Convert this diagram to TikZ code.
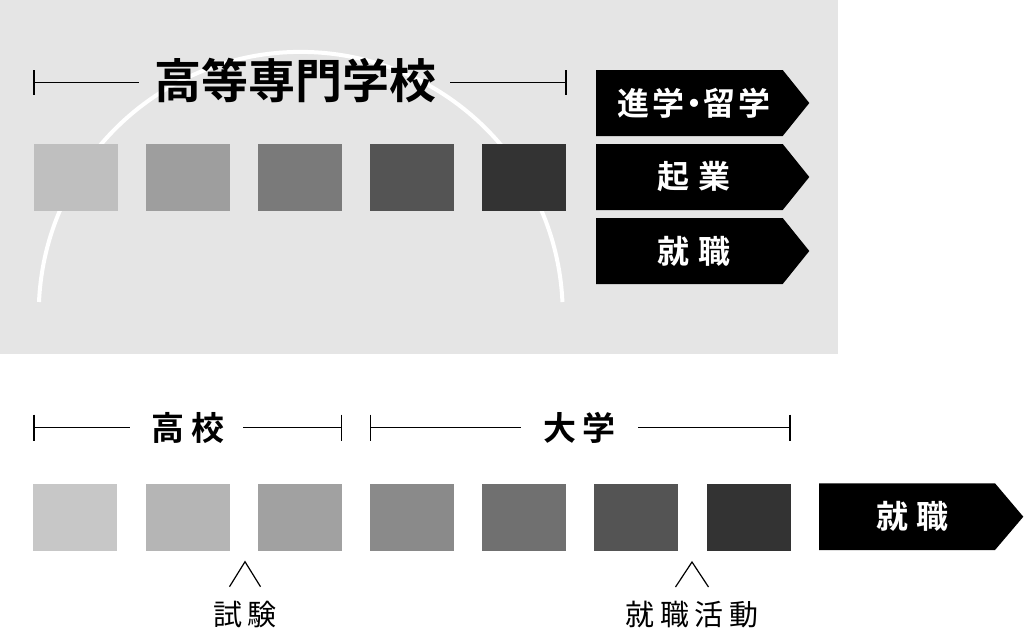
\documentclass[tikz,border=0pt]{standalone}
\usepackage{fontspec}
\setmainfont{Noto Sans CJK JP}[BoldFont={Noto Sans CJK JP Bold}]
\usepackage{tikz}

\begin{document}
\begin{tikzpicture}[x=1pt, y=-1pt, line width=1.2pt, every node/.style={inner sep=0pt},
  cell/.style={minimum width=84pt, minimum height=67pt},
  bigtitle/.style={font=\bfseries\fontsize{47}{47}\selectfont},
  subtitle/.style={font=\bfseries\fontsize{33}{33}\selectfont\addfontfeature{LetterSpace=20}},
  pathtext/.style={text=white, font=\bfseries\fontsize{32}{32}\selectfont\addfontfeature{LetterSpace=#1}},
  eventtext/.style={font=\fontsize{29}{29}\selectfont\addfontfeature{LetterSpace=20}}]
  \useasboundingbox (0,0) rectangle (1024,630);
  % kosen panel
  \fill[black!10] (0,0) rectangle (838,354);
  \draw[white, line width=4pt] (39,302) arc[start angle=182.6, end angle=357.4, radius=262];
  \node[bigtitle] (kosen) at (295.5,80.5) {高等専門学校};
  \coordinate (kl) at (34,82.5);
  \coordinate (kr) at (566,82.5);
  \draw ([yshift=12.5pt]kl) -- ([yshift=-12.5pt]kl) (kl) -- ([xshift=-15pt]kl -| kosen.west);
  \draw ([yshift=12.5pt]kr) -- ([yshift=-12.5pt]kr) (kr) -- ([xshift=13pt]kr -| kosen.east);
  \foreach \p [count=\i from 0] in {25,38,52,67,80}
    \node[cell, fill=black!\p] (k\i) at (75.5+112.1*\i,177.5) {};
  \foreach \y/\t/\s [count=\i] in {103/{進学\kern-7pt・\kern-7pt留学}/10, 177/起業/30, 251/就職/30} {
    \fill (596,\y-33) -- (782.7,\y-33) -- (809.3,\y) -- (782.7,\y+33) -- (596,\y+33) -- cycle;
    \node[pathtext=\s] (out\i) at (694,\y) {\t};
  }
  % high school and university
  \node[subtitle] (hs) at (188,428) {高校};
  \node[subtitle] (univ) at (579.5,428) {大学};
  \coordinate (hl) at (34,427.7);
  \coordinate (hr) at (341.7,427.7);
  \coordinate (ul) at (370.7,427.7);
  \coordinate (ur) at (790,427.7);
  \foreach \c in {hl,hr,ul,ur}
    \draw ([yshift=13pt]\c) -- ([yshift=-13pt]\c);
  \draw (hl) -- ([xshift=-21pt]hl -| hs.west);
  \draw (hr) -- ([xshift=18pt]hr -| hs.east);
  \draw (ul) -- ([xshift=-22pt]ul -| univ.west);
  \draw (ur) -- ([xshift=22pt]ur -| univ.east);
  \foreach \p [count=\i from 0] in {22,29,37,46,56,67,80}
    \node[cell, fill=black!\p] (b\i) at (75.4+112.2*\i,517) {};
  \fill (819,483.3) -- (995,483.3) -- (1023.3,516.7) -- (995,550) -- (819,550) -- cycle;
  \node[pathtext=25] (job) at (912,516.7) {就職};
  % events
  \node[eventtext] (exam) at (245,615) {試験};
  \node[eventtext] (hunt) at (692,615) {就職活動};
  \draw ([xshift=-15.5pt]exam.north |- 0,586.7) -- (exam.north |- 0,561.7) -- ([xshift=15.5pt]exam.north |- 0,586.7);
  \draw ([xshift=-16.5pt]hunt.north |- 0,587) -- (hunt.north |- 0,562) -- ([xshift=16.5pt]hunt.north |- 0,587);
\end{tikzpicture}
\end{document}
